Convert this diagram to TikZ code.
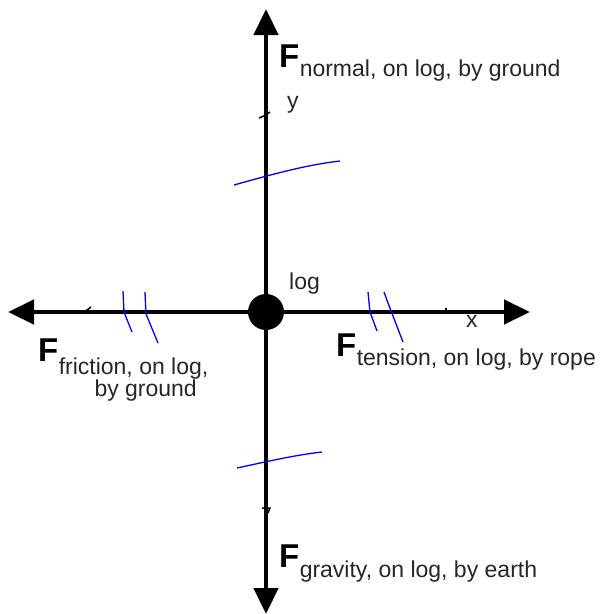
\documentclass[tikz,border=0pt]{standalone}
\usepackage{fontspec}
\setmainfont{Liberation Sans}
\usetikzlibrary{arrows.meta}
\tikzset{
  axis/.style={line width=4.5pt,-{Triangle[length=26pt,width=24pt]}},
  bigF/.style={inner sep=0pt,anchor=base west,font=\fontsize{33}{38}\bfseries\selectfont},
  subtxt/.style={inner sep=0pt,anchor=base west,font=\fontsize{23}{26}\selectfont,text=black!85},
  lbl/.style={inner sep=0pt,anchor=base west,font=\fontsize{23}{26}\selectfont,text=black!85},
  hatch/.style={draw=blue,line width=1.3pt},
  tick/.style={line width=1.5pt}
}
\begin{document}
\begin{tikzpicture}[x=1pt,y=-1pt]
\useasboundingbox (0,0) rectangle (603,614);
% endpoints
\coordinate (top) at (266,9);
\coordinate (bot) at (266,614);
\coordinate (lft) at (8,312);
\coordinate (rgt) at (530,312);
\node[circle,fill=black,minimum size=36pt,inner sep=0pt] (log) at (266,312) {};
\draw[axis] (log.center) -- (top);
\draw[axis] (log.center) -- (bot);
\draw[axis] (log.center) -- (lft);
\draw[axis] (log.center) -- (rgt);
% small tick marks
\draw[tick] (259,118) -- (266,115) -- (270,112);
\draw[tick] (81,313) -- (87,310) -- (91,307);
\draw[tick] (446,308) -- (446,314);
\draw[tick] (262,508) -- (270,508) -- (268,513);
% blue hatch marks
\draw[hatch] (234,185) .. controls (270,175) and (305,165) .. (340,161);
\draw[hatch] (237,468) .. controls (265,462) and (295,455) .. (322,452);
\draw[hatch] (123,291) -- (124,312) -- (132,332);
\draw[hatch] (145,292) -- (146,314) -- (158,343);
\draw[hatch] (368,292) -- (370,312) -- (377,331);
\draw[hatch] (384,292) -- (388,303) -- (403,342);
% labels
\node[lbl] (ylab) at (287,108) {y};
\node[lbl] (xlab) at (466,327) {x};
\node[lbl] (loglab) at (289,289) {log};
\node[bigF] (Fn) at (279,67) {F};
\node[subtxt] (Fns) at (Fn.east |- 0,76) {normal, on log, by ground};
\node[bigF] (Ft) at (336,356) {F};
\node[subtxt] (Fts) at (Ft.east |- 0,365) {tension, on log, by rope};
\node[bigF] (Ff) at (38,361) {F};
\node[subtxt] (Ffs) at (Ff.east |- 0,374) {friction, on log,};
\node[subtxt,anchor=base east] (Ffs2) at (197,396) {by ground};
\node[bigF] (Fg) at (279,567) {F};
\node[subtxt] (Fgs) at (Fg.east |- 0,577) {gravity, on log, by earth};
\end{tikzpicture}
\end{document}
